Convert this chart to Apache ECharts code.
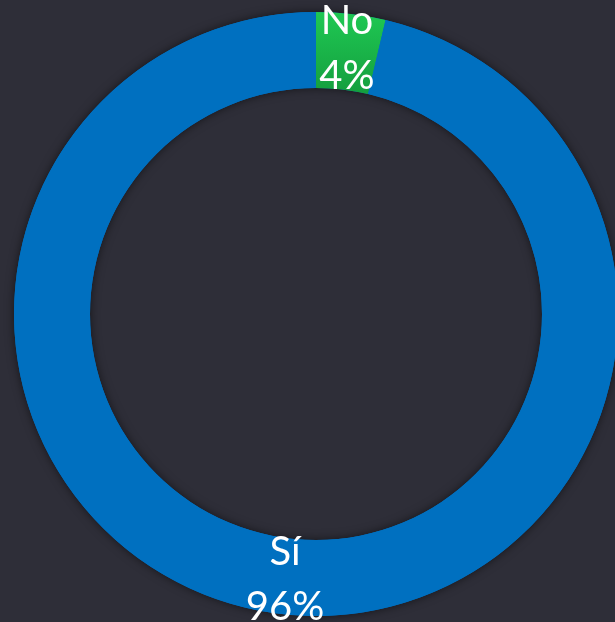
<!DOCTYPE html>
<html>
<head>
<meta charset="utf-8">
<script src="https://cdn.jsdelivr.net/npm/echarts@6/dist/echarts.min.js"></script>
<style>
html,body{margin:0;padding:0;background:#2e2e38;}
#chart{width:615px;height:622px;}
</style>
</head>
<body>
<div id="chart"></div>
<script>
const categories = ['No', 'Sí'];
const values = [3.7, 96.3];
const colors = [
  {type:'linear',x:0,y:0,x2:0,y2:1,colorStops:[{offset:0,color:'#1fc853'},{offset:1,color:'#149e3e'}]},
  '#0070c0'
];
const chart = echarts.init(document.getElementById('chart'));
chart.setOption({
  backgroundColor:'#2e2e38',
  animation:false,
  series:[{
    type:'pie',
    center:[316,314],
    radius:[226,302],
    silent:true,
    z:1,
    label:{show:false},
    labelLine:{show:false},
    itemStyle:{color:'#0070c0',shadowBlur:10,shadowColor:'rgba(0,0,0,0.55)'},
    data:[{name:'',value:1}]
  },{
    type:'pie',
    z:2,
    center:[316,314],
    radius:[226,302],
    startAngle:90,
    clockwise:true,
    avoidLabelOverlap:false,
    label:{
      show:true,
      position:'inside',
      color:'#ffffff',
      fontFamily:'Lato',
      fontSize:40,
      lineHeight:55,
      formatter:function(p){return p.name+'\n'+Math.round(p.percent)+'%';}
    },
    labelLine:{show:false},
    data:categories.map((c,i)=>({name:c,value:values[i],itemStyle:{color:colors[i]}}))
  }]
});
</script>
</body>
</html>
